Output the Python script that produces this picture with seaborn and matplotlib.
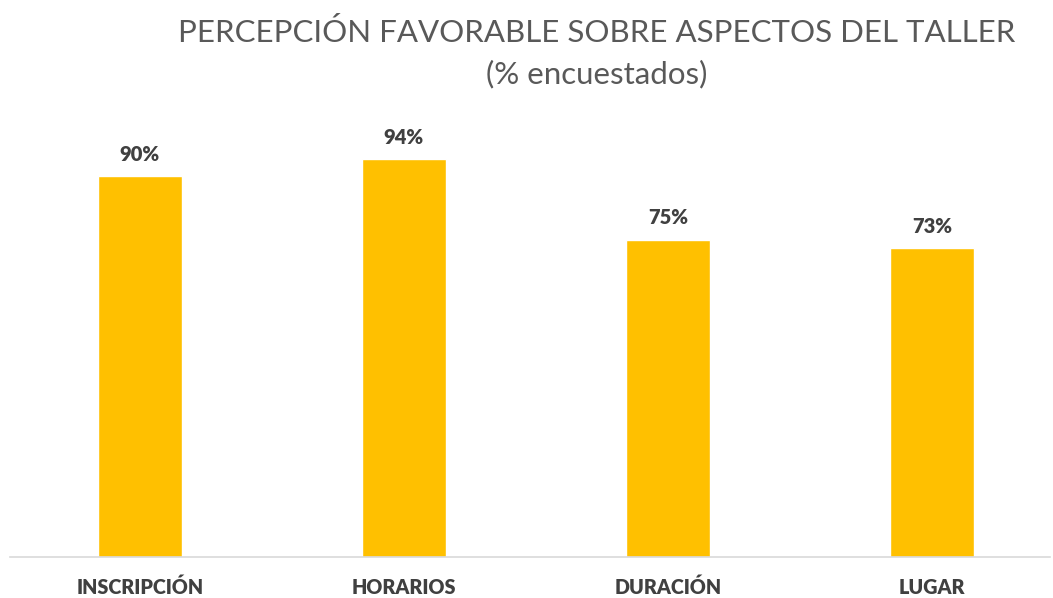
import matplotlib
matplotlib.use('Agg')
import matplotlib.pyplot as plt
import seaborn as sns
import pandas as pd

# datos
aspectos = ['INSCRIPCIÓN', 'HORARIOS', 'DURACIÓN', 'LUGAR']
porcentajes = [90, 94, 75, 73]
etiquetas = ['90%', '94%', '75%', '73%']

sns.set_style('white')
plt.rcParams['font.family'] = ['Lato', 'DejaVu Sans']

df = pd.DataFrame({'aspecto': aspectos, 'pct': porcentajes})

fig = plt.figure(figsize=(10.53, 5.98), dpi=100)
W, H = 1053, 598
ax = fig.add_axes([10 / W, (H - 557) / H, 1040 / W, (557 - 134) / H])

sns.barplot(data=df, x='aspecto', y='pct', color='#FFC000', width=0.318,
            saturation=1, ax=ax)

for i, (v, t) in enumerate(zip(porcentajes, etiquetas)):
    ax.annotate(t, (i, v), xytext=(0, 9), textcoords='offset points',
                ha='center', va='bottom', fontsize=14.5, fontweight='heavy',
                color='#404040')

ax.set_xlim(-0.492, 3.447)
ax.set_ylim(0, 100)
ax.set_yticks([])
ax.set_xlabel('')
ax.set_ylabel('')
ax.tick_params(axis='x', length=0, pad=15)
for lbl in ax.get_xticklabels():
    lbl.set_fontweight('heavy')
    lbl.set_fontsize(14.2)
    lbl.set_color('#404040')

for s in ['top', 'right', 'left']:
    ax.spines[s].set_visible(False)
ax.spines['bottom'].set_color('#D9D9D9')
ax.spines['bottom'].set_linewidth(1.2)

fig.text(597 / W, 1 - 33 / H, 'PERCEPCIÓN FAVORABLE SOBRE ASPECTOS DEL TALLER',
         ha='center', va='center', fontsize=22.5, color='#595959')
fig.text(597 / W, 1 - 74 / H, '(% encuestados)',
         ha='center', va='center', fontsize=22.5, color='#595959')

fig.savefig('out.png', dpi=100)
